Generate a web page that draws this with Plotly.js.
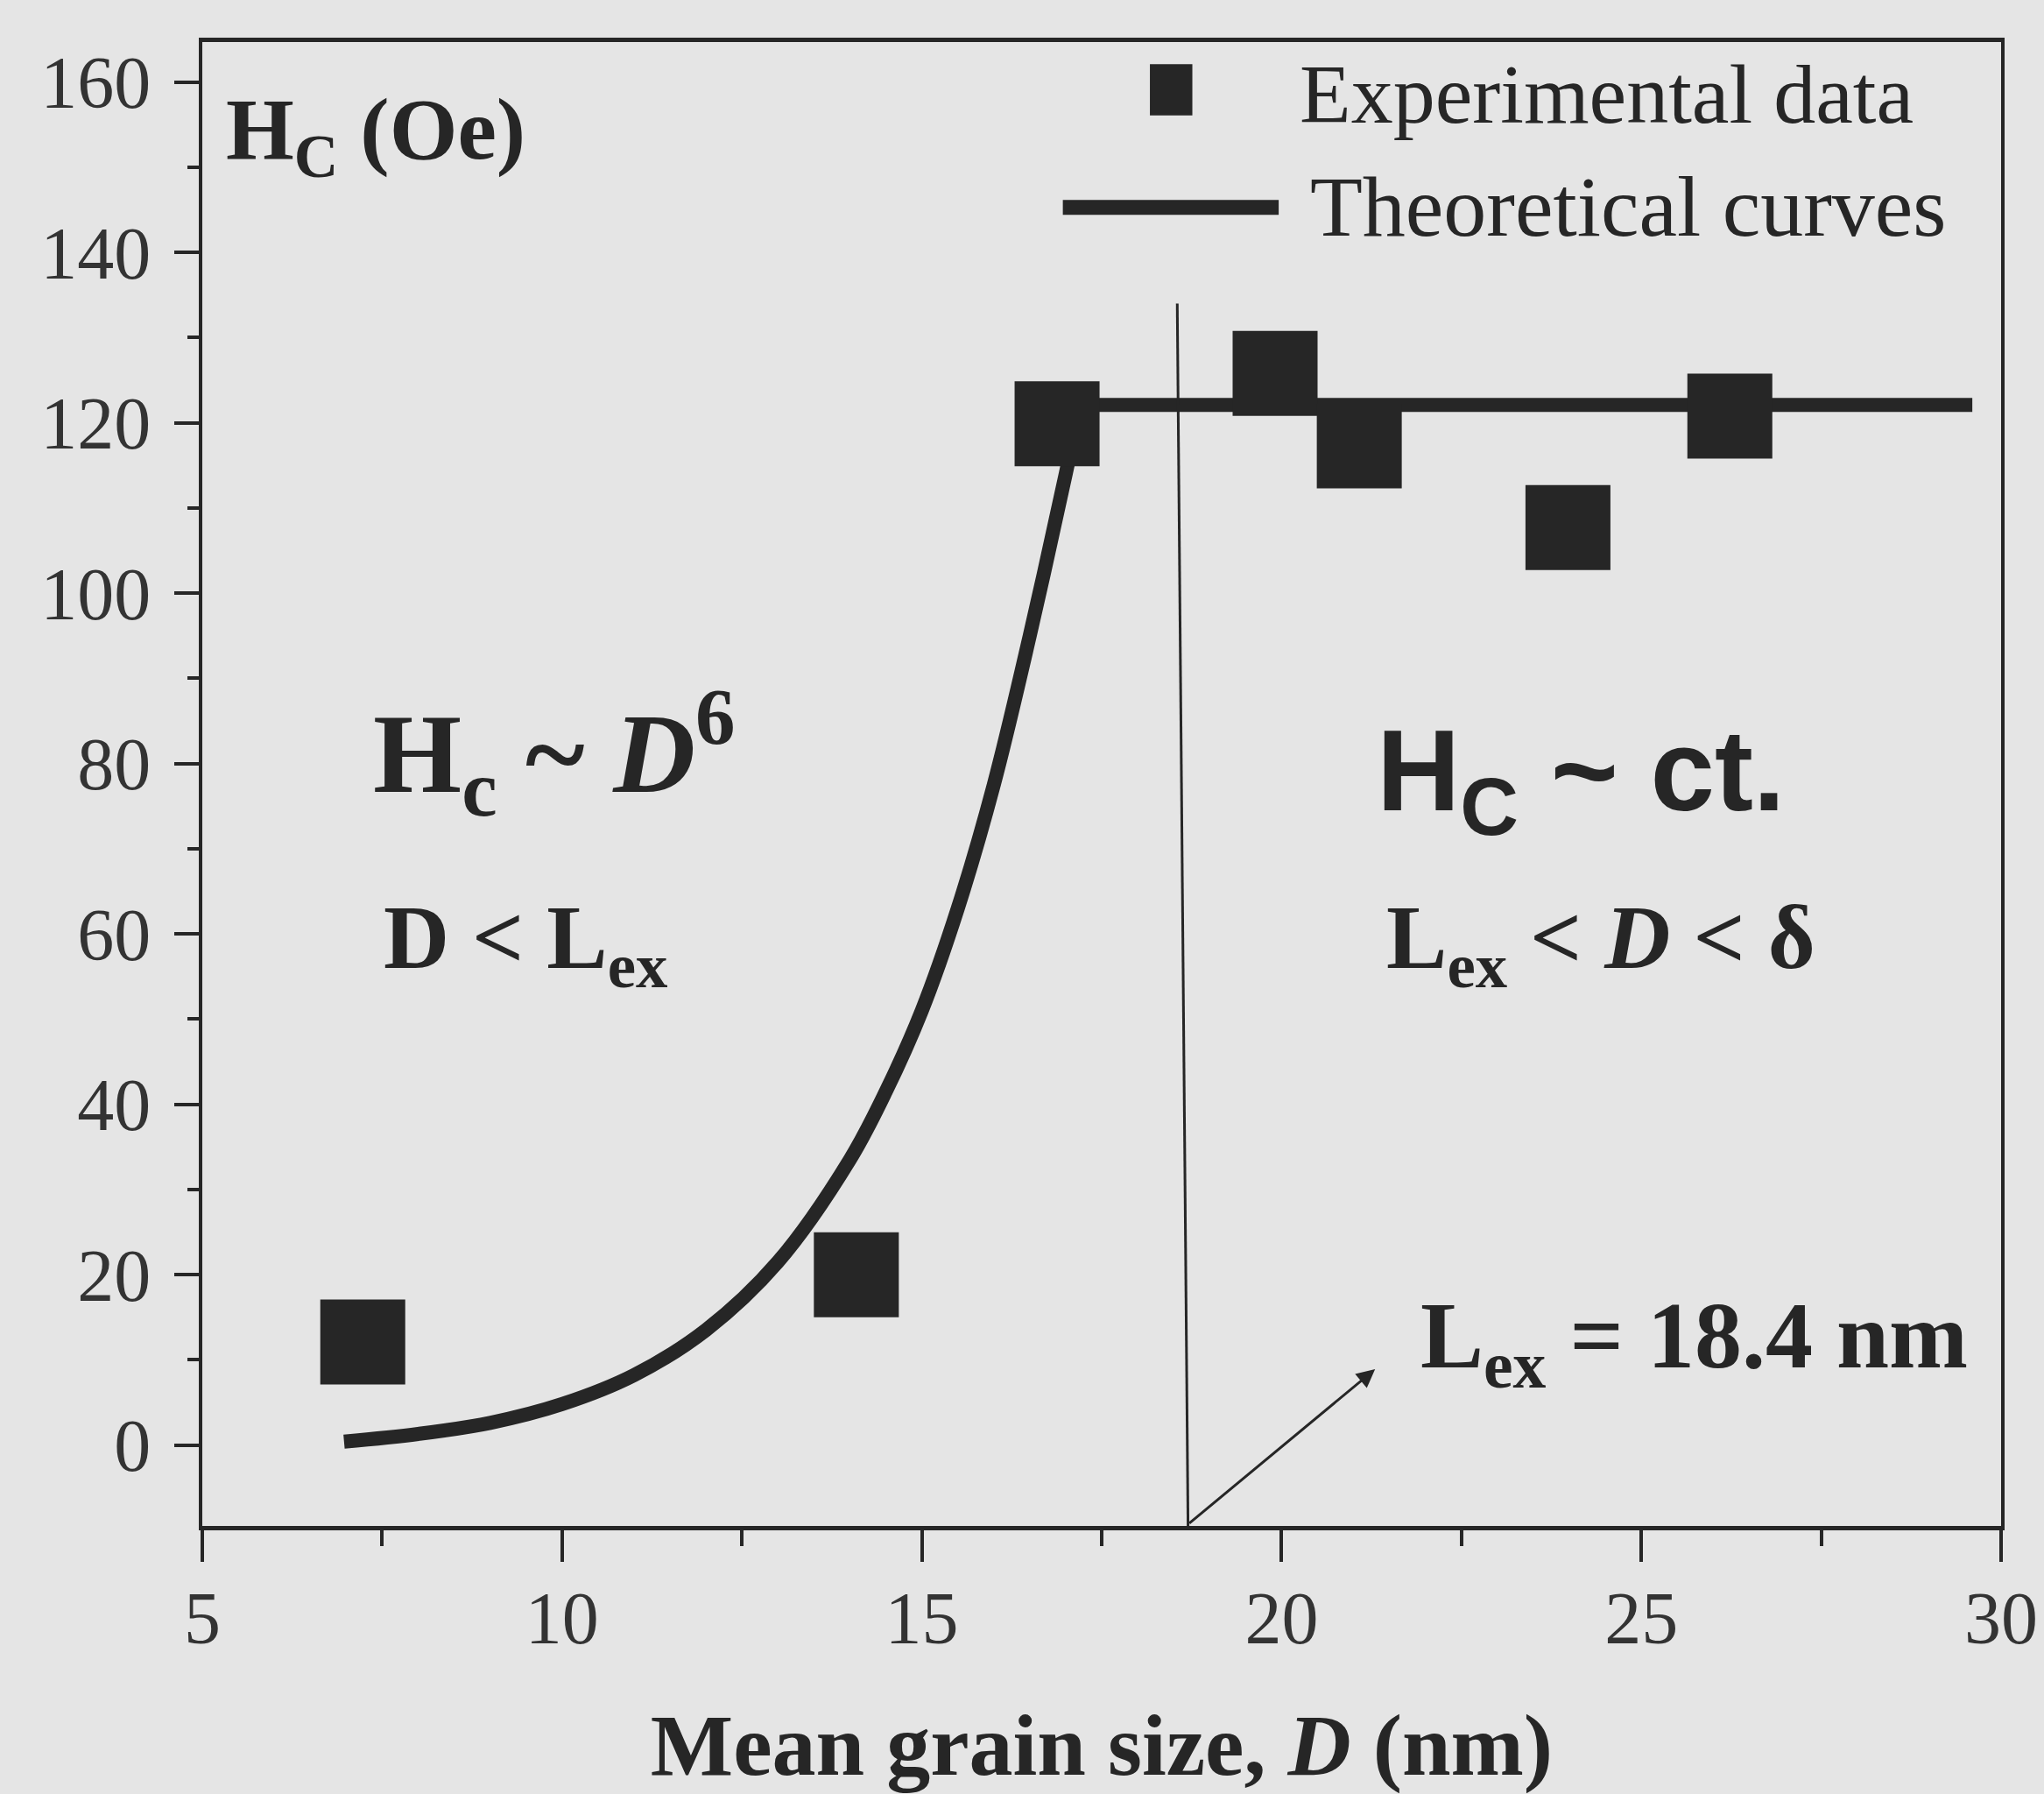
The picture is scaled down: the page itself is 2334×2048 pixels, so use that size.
<!DOCTYPE html>
<html>
<head>
<meta charset="utf-8">
<script src="https://cdn.plot.ly/plotly-3.0.1.min.js"></script>
<style>
  html, body { margin: 0; padding: 0; background: #e5e5e5; }
  #chart { width: 2334px; height: 2048px; }
</style>
</head>
<body>
<div id="chart"></div>
<script>
// ---- data ----
const expD  = [7.23, 14.09, 16.88, 19.91, 21.08, 23.98, 26.23];
const expHc = [12.1, 20.0, 119.9, 125.8, 117.3, 107.7, 120.8];

// theoretical curve, D < Lex regime (Hc ~ D^6)
const theoLowD  = [6.97, 8.0, 9.0, 10.0, 11.0, 12.0, 13.0, 14.0, 14.5, 15.0, 15.5, 16.0, 16.5, 17.0, 17.2];
const theoLowHc = [0.4, 1.3, 2.6, 4.8, 8.2, 13.5, 21.5, 33.5, 41.5, 51.0, 63.0, 77.5, 95.0, 114.0, 122.1];
// theoretical curve, Lex < D < delta regime (Hc ~ const)
const theoHighD  = [17.2, 29.6];
const theoHighHc = [122.1, 122.1];

const xTickVals = [5, 10, 15, 20, 25, 30];
const yTickVals = [0, 20, 40, 60, 80, 100, 120, 140, 160];

const lexBottom = [18.70, -9.5];
const lexTop    = [18.55, 134.0];
const arrowTail = [18.70, -9.3];
const arrowHead = [21.30, 8.9];

const seriesNames = ['Experimental data', 'Theoretical curves'];

// ---- style ----
const INK = '#262626';
const SERIF = 'Liberation Serif, Times New Roman, serif';
const SANS = 'Liberation Sans, Arial, sans-serif';

const traces = [
  {
    x: theoLowD, y: theoLowHc, mode: 'lines', name: seriesNames[1],
    line: { color: INK, width: 16, shape: 'spline', smoothing: 1 }, showlegend: false, hoverinfo: 'skip'
  },
  {
    x: theoHighD, y: theoHighHc, mode: 'lines', name: seriesNames[1],
    line: { color: INK, width: 16 }, showlegend: false, hoverinfo: 'skip'
  },
  {
    x: expD, y: expHc, mode: 'markers', name: seriesNames[0],
    marker: { symbol: 'square', size: 97, color: INK }, showlegend: false
  }
];

const ann = (x, y, text, size, family, extra) => Object.assign({
  x: x, y: y, xref: 'x', yref: 'y', text: text, showarrow: false,
  xanchor: 'left', yanchor: 'middle',
  font: { family: family || SERIF, size: size, color: INK }
}, extra || {});

const layout = {
  width: 2334, height: 2048,
  paper_bgcolor: '#e5e5e5', plot_bgcolor: '#e5e5e5',
  margin: { l: 231, r: 49, t: 48, b: 306 },
  showlegend: false,
  xaxis: {
    range: [5, 30], tickvals: xTickVals, ticktext: xTickVals.map(String),
    ticks: 'outside', ticklen: 36, tickwidth: 4, tickcolor: INK,
    minor: { dtick: 2.5, tick0: 5, ticks: 'outside', ticklen: 18, tickwidth: 4, tickcolor: INK },
    showline: true, linewidth: 5, linecolor: INK, mirror: true,
    showgrid: false, zeroline: false,
    tickfont: { family: SERIF, size: 84, color: '#333' },
    ticklabelstandoff: -8,
    title: { text: '<b>Mean grain size, <i>D</i> (nm)</b>', font: { family: SERIF, size: 100, color: INK }, standoff: 66 }
  },
  yaxis: {
    range: [-9.5, 164.7], tickvals: yTickVals, ticktext: yTickVals.map(String),
    ticks: 'outside', ticklen: 28, tickwidth: 4, tickcolor: INK,
    minor: { dtick: 10, tick0: 0, ticks: 'outside', ticklen: 13, tickwidth: 4, tickcolor: INK },
    showline: true, linewidth: 4, linecolor: INK, mirror: true,
    showgrid: false, zeroline: false,
    tickfont: { family: SERIF, size: 84, color: '#333' },
    ticklabelstandoff: 10
  },
  shapes: [
    { type: 'line', xref: 'x', yref: 'y', x0: lexBottom[0], y0: lexBottom[1], x1: lexTop[0], y1: lexTop[1],
      line: { color: INK, width: 3 } },
    // legend symbols
    { type: 'rect', xref: 'x', yref: 'y', x0: 18.17, x1: 18.76, y0: 156.1, y1: 162.1,
      fillcolor: INK, line: { width: 0 } },
    { type: 'line', xref: 'x', yref: 'y', x0: 16.96, x1: 19.96, y0: 145.3, y1: 145.3,
      line: { color: INK, width: 17 } }
  ],
  annotations: [
    ann(20.23, 158.6, seriesNames[0], 96),
    ann(20.37, 145.4, seriesNames[1], 98),
    ann(5.30, 153.8, '<b>H<sub>C</sub> (Oe)</b>', 100),
    ann(7.35, 81.2, '<b>H<sub>c</sub> ~ <i>D</i><sup>6</sup></b>', 130),
    ann(7.50, 58.8, '<b>D &lt; L<sub>ex</sub></b>', 104),
    ann(21.30, 78.2, '<b>H<sub>C</sub> ~ ct.</b>', 132, SANS),
    ann(21.43, 58.8, '<b>L<sub>ex</sub> &lt; <i>D</i> &lt; δ</b>', 104),
    ann(21.90, 12.0, '<b>L<sub>ex</sub> = 18.4 nm</b>', 108),
    { x: arrowHead[0], y: arrowHead[1], ax: arrowTail[0], ay: arrowTail[1],
      xref: 'x', yref: 'y', axref: 'x', ayref: 'y', text: '', showarrow: true,
      arrowhead: 2, arrowsize: 1.4, arrowwidth: 3, arrowcolor: INK, standoff: 0 }
  ]
};

Plotly.newPlot('chart', traces, layout, { displayModeBar: false, staticPlot: true });
</script>
</body>
</html>
